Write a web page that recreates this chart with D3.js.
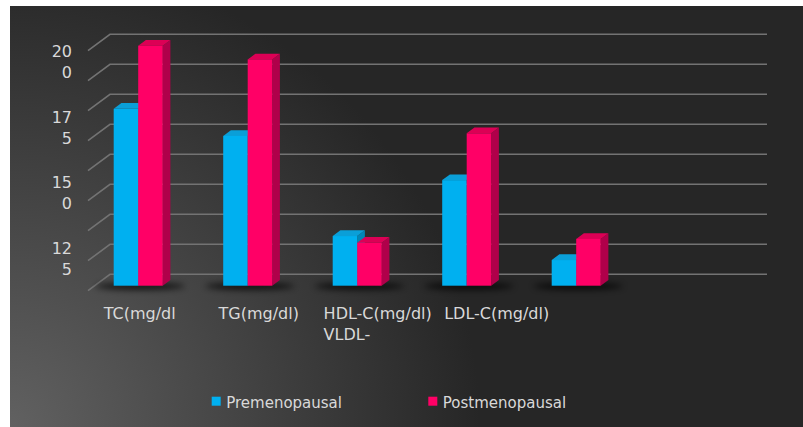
<!DOCTYPE html>
<html>
<head>
<meta charset="utf-8">
<script src="https://cdn.jsdelivr.net/npm/d3@7"></script>
<style>
  html, body { margin: 0; padding: 0; background: #ffffff; }
  svg { display: block; }
  text { font-family: "DejaVu Sans", sans-serif; fill: #d9d9d9; }
</style>
</head>
<body>
<svg id="chart" width="803" height="427"></svg>
<script>
// Lipid profile by menopausal status
const categories = ["TC", "TG", "HDL-C", "LDL-C", "VLDL-C"];
const categoryLabels = [["TC(mg/dl"], ["TG(mg/dl)"], ["HDL-C(mg/dl)", "VLDL-"], ["LDL-C(mg/dl)"], []];
const seriesNames = ["Premenopausal", "Postmenopausal"];
const premenopausal = [173.7, 162.4, 120.7, 144.0, 110.7];
const postmenopausal = [200.0, 194.3, 117.9, 163.5, 119.5];
const yTicks = [125, 150, 175, 200];
const yTickLabels = [["12", "5"], ["15", "0"], ["17", "5"], ["20", "0"]];
const gridValues = [100, 112.5, 125, 137.5, 150, 162.5, 175, 187.5, 200];

const palette = {
  Premenopausal: { front: "#00b0f0", top: "#0a9fd8", side: "#0086b8" },
  Postmenopausal: { front: "#ff0066", top: "#dc0055", side: "#b0004a" }
};

const svg = d3.select("#chart");
const defs = svg.append("defs");

// Chart area background: dark with a light glow in the lower-left corner
const glow = defs.append("radialGradient")
  .attr("id", "bgGlow").attr("gradientUnits", "userSpaceOnUse")
  .attr("cx", 10).attr("cy", 427).attr("r", 470);
glow.append("stop").attr("offset", "0%").attr("stop-color", "#616161");
glow.append("stop").attr("offset", "100%").attr("stop-color", "#262626");

defs.append("filter").attr("id", "shadowBlur")
  .attr("x", "-50%").attr("y", "-200%").attr("width", "200%").attr("height", "500%")
  .append("feGaussianBlur").attr("stdDeviation", 3);

svg.append("rect").attr("x", 10).attr("y", 6).attr("width", 793).attr("height", 421)
  .attr("fill", "#262626");
svg.append("rect").attr("x", 10).attr("y", 6).attr("width", 793).attr("height", 421)
  .attr("fill", "url(#bgGlow)");

// 3D geometry: front plane, bar plane, back wall
const plotLeft = 88, plotRight = 745;
const depth = { dx: 22, dy: -16.4 };
const barPlane = 0.305;                 // fraction of depth where bars sit
const barDepth = { dx: 7.7, dy: -5.7 };  // thickness of each bar

// value scale in the bar plane
const y = d3.scaleLinear().domain([100, 200]).range([285.7, 45.7]);
const toFront = v => y(v) - barPlane * depth.dy;
const toBack = v => toFront(v) + depth.dy;

// category positions in the bar plane
const x0 = d3.scaleBand().domain(categories)
  .range([83.45, 630.95]).paddingInner(0.5525).paddingOuter(0.27625);
const x1 = d3.scaleBand().domain(seriesNames).range([0, x0.bandwidth()]);

// gridlines: side wall diagonal + back wall horizontal
svg.append("g").selectAll("path").data(gridValues).join("path")
  .attr("d", v => `M${plotLeft},${toFront(v)}L${plotLeft + depth.dx},${toBack(v)}L${plotRight + depth.dx},${toBack(v)}`)
  .attr("fill", "none").attr("stroke", "#737373").attr("stroke-width", 1.6);

// value axis labels (wrapped onto two lines)
const yLabel = d3.scaleLinear().domain([100, 200]).range([323.6, 62]);
const yl = svg.append("g").selectAll("text").data(yTicks).join("text")
  .attr("text-anchor", "end").style("font-size", "16px");
yl.each(function (v, i) {
  const t = d3.select(this);
  yTickLabels[i].forEach((line, k) => {
    t.append("tspan").attr("x", 72)
      .attr("y", yLabel(v) + (k === 0 ? -10.5 : 10.5) + 5.8)
      .text(line);
  });
});

// soft floor shadows under each group
svg.append("g").selectAll("ellipse").data(categories).join("ellipse")
  .attr("cx", c => x0(c) + x0.bandwidth() / 2 + 2)
  .attr("cy", y(100) + 0.5)
  .attr("rx", x0.bandwidth() / 2 + 20).attr("ry", 3.5)
  .attr("fill", "#000").attr("opacity", 0.75)
  .attr("filter", "url(#shadowBlur)");

// 3D bars
const rows = [];
categories.forEach((c, i) => {
  rows.push({ cat: c, series: "Premenopausal", value: premenopausal[i] });
  rows.push({ cat: c, series: "Postmenopausal", value: postmenopausal[i] });
});

const bars = svg.append("g").selectAll("g").data(rows).join("g");
bars.each(function (d) {
  const g = d3.select(this);
  const xl = x0(d.cat) + x1(d.series);
  const xr = xl + x1.bandwidth();
  const yt = y(d.value), yb = y(100);
  const c = palette[d.series];
  const { dx, dy } = barDepth;
  g.append("path").attr("fill", c.side)
    .attr("d", `M${xr},${yt}L${xr + dx},${yt + dy}L${xr + dx},${yb + dy}L${xr},${yb}Z`);
  g.append("path").attr("fill", c.top)
    .attr("d", `M${xl},${yt}L${xl + dx},${yt + dy}L${xr + dx},${yt + dy}L${xr},${yt}Z`);
  g.append("rect").attr("fill", c.front)
    .attr("x", xl).attr("y", yt).attr("width", xr - xl).attr("height", yb - yt);
});

// category labels
const xLabel = d3.scaleBand().domain(categories).range([80.2, 675.2]);
const cl = svg.append("g").selectAll("text").data(categories).join("text")
  .style("font-size", "16px").attr("text-anchor", "start");
cl.each(function (c, i) {
  const t = d3.select(this);
  const lines = categoryLabels[i];
  if (!lines.length) return;
  const cx = xLabel(c) + xLabel.bandwidth() / 2;
  const first = t.append("tspan").text(lines[0]);
  const w = first.node().getComputedTextLength();
  const left = cx - w / 2;
  first.attr("x", left).attr("y", 319);
  lines.slice(1).forEach((line, k) => {
    t.append("tspan").attr("x", left).attr("y", 319 + 20.5 * (k + 1)).text(line);
  });
});

// legend
const legendX = [211.7, 428.3];
const lg = svg.append("g").selectAll("g").data(seriesNames).join("g")
  .attr("transform", (s, i) => `translate(${legendX[i]},396.7)`);
lg.append("rect").attr("width", 9).attr("height", 9)
  .attr("fill", s => palette[s].front);
lg.append("text").attr("x", 14.5).attr("y", 10.8)
  .style("font-size", "15px").text(s => s);
</script>
</body>
</html>
